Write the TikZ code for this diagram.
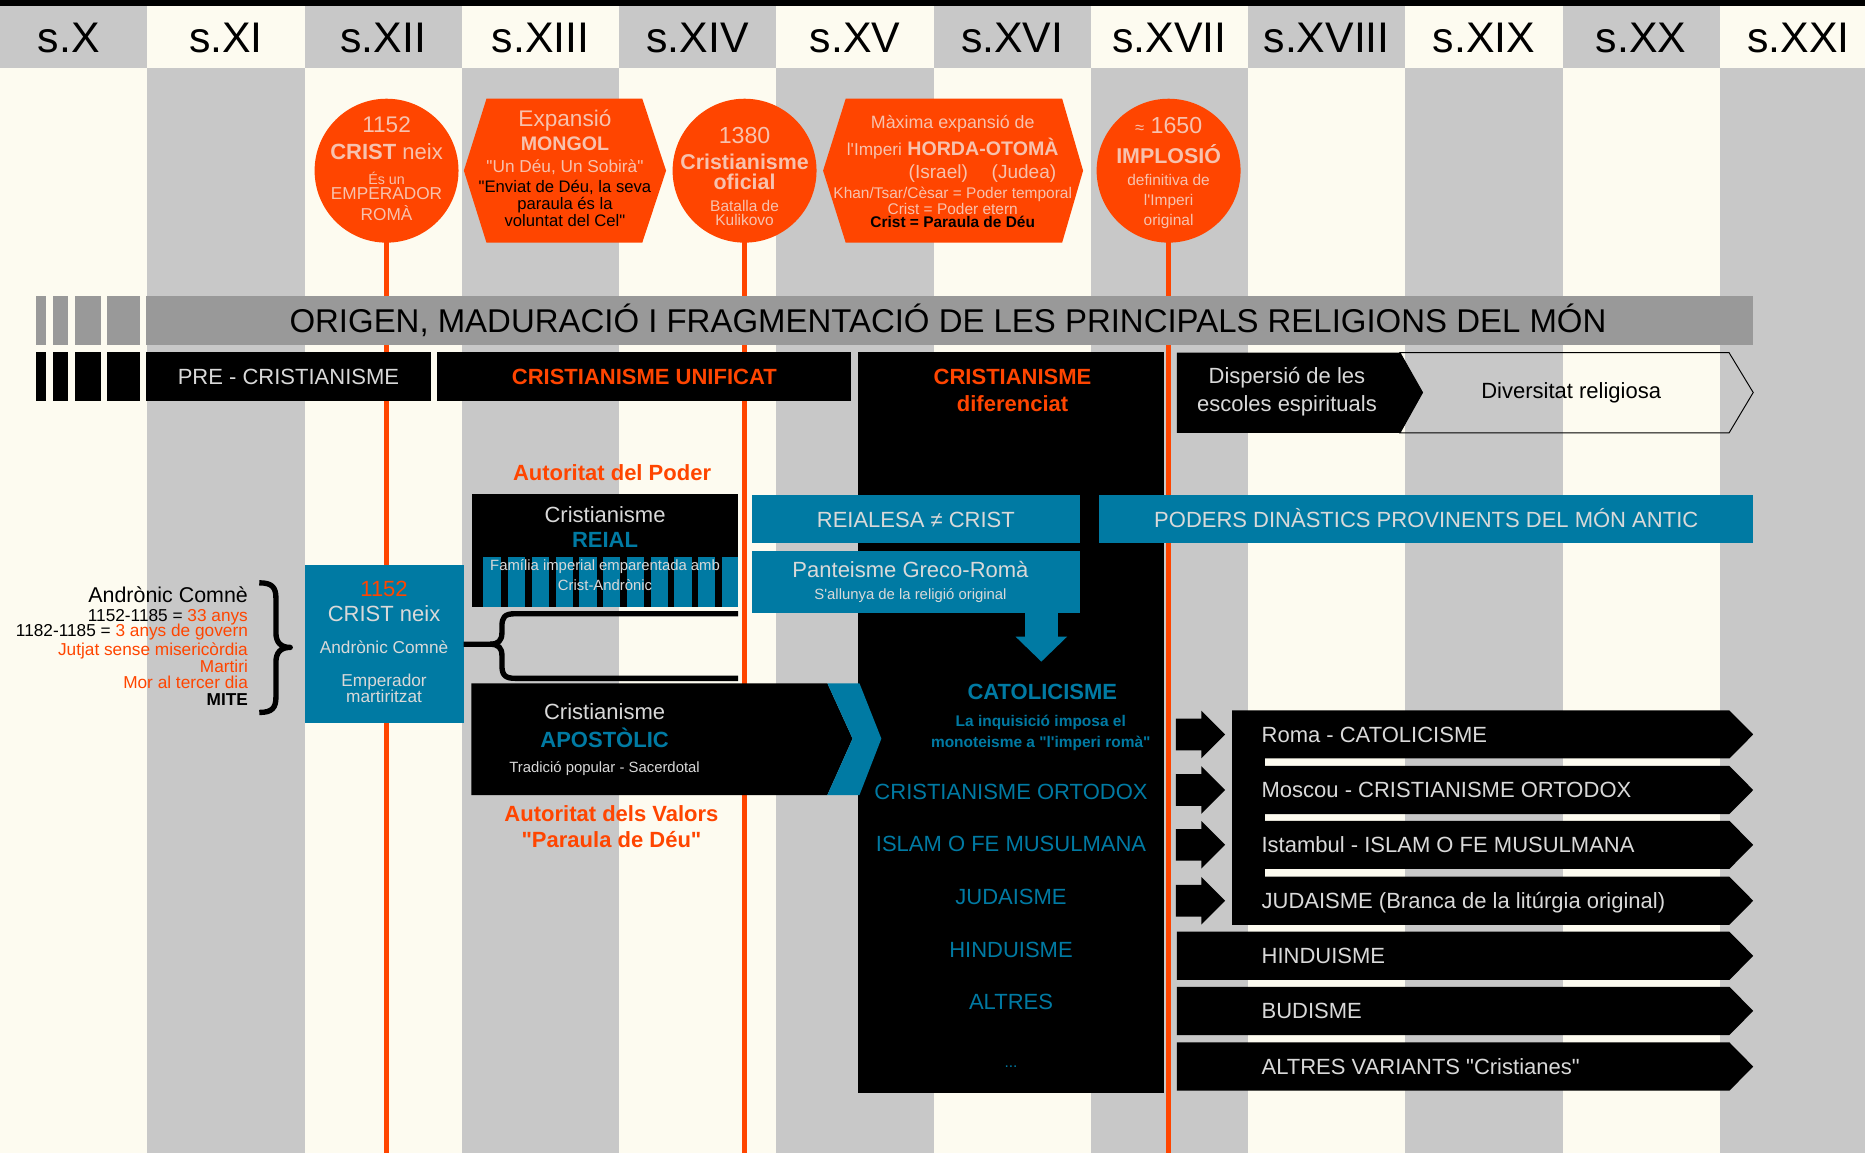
\documentclass[tikz,border=0pt]{standalone}
\usepackage{fontspec}
\setmainfont{Liberation Sans}[Ligatures=TeXOff]
\usetikzlibrary{arrows.meta}
\definecolor{gris}{HTML}{C8C8C8}
\definecolor{crema}{HTML}{FDFBF0}
\definecolor{barra}{HTML}{999999}
\definecolor{vermell}{HTML}{FF4500}
\definecolor{blau}{HTML}{007AA3}
\definecolor{clar}{HTML}{D9D9D9}
\definecolor{rosa}{HTML}{F7C2AE}
\newcommand{\mida}[1]{\fontsize{#1}{#1}\selectfont}
\tikzset{
  lin/.style={inner sep=0pt, font=\mida{#1}, text height={0.716*#1pt}, text depth=0pt},
  llum/.style={text=clar},
  rosat/.style={text=rosa},
  bloc/.style={inner sep=0pt, outer sep=0pt, anchor=north west},
  fil/.style={vermell, line width=4.5pt},
  cercle/.style={circle, fill=vermell, minimum size=121pt, inner sep=0pt},
  clau/.style={line width=4.5pt, line join=round},
}
\begin{document}
\begin{tikzpicture}[x=1pt,y=-1pt]
\useasboundingbox (0,0) rectangle (1568,969);
% columnes dels segles
\foreach \nom/\ccap/\ccos [count=\i from 0] in {X/gris/crema, XI/crema/gris, XII/gris/crema, XIII/crema/gris, XIV/gris/crema, XV/crema/gris, XVI/gris/crema, XVII/crema/gris, XVIII/gris/crema, XIX/crema/gris, XX/gris/crema, XXI/crema/gris}{
  \fill[\ccap] ({-8.3+\i*132.2},5) rectangle ({123.9+\i*132.2},57.5);
  \fill[\ccos] ({-8.3+\i*132.2},57.5) rectangle ({123.9+\i*132.2},969);
  \node[lin=36] (s\i) at ({57.8+\i*132.2},31) {s.\nom};
}
\fill[black] (0,0) rectangle (1568,5);
% linies de temps
\coordinate (p1152) at (325,143.5);
\coordinate (p1380) at (626,143.5);
\coordinate (p1650) at (982.5,143.5);
\foreach \p in {p1152,p1380,p1650}
  \draw[fil] (\p) -- (\p |- 0,969);
% fites
\node[cercle] (c1152) at (p1152) {};
\node[lin=19, rosat] (c1152a) at (325,105) {1152};
\node[lin=18.5, rosat] (c1152b) at (325,127.5) {\textbf{CRIST} neix};
\node[lin=12, rosat] (c1152c) at (325,151) {És un};
\node[lin=14.5, rosat] (c1152d) at (325,162.6) {EMPERADOR};
\node[lin=14.5, rosat] (c1152e) at (325,180.5) {ROMÀ};
\fill[vermell] (409,83) -- (540,83) -- (560,143.5) -- (540,204) -- (409,204) -- (390,143.5) -- cycle;
\node[lin=19, rosat] (mongola) at (475,99.5) {Expansió};
\node[lin=16.5, rosat] (mongolb) at (475,120.5) {\bfseries MONGOL};
\node[lin=14.5, rosat] (mongolc) at (475,140) {"Un Déu, Un Sobirà"};
\node[lin=14] (mongold) at (475,157) {"Enviat de Déu, la seva};
\node[lin=14] (mongole) at (475,171.5) {paraula és la};
\node[lin=14] (mongolf) at (475,185) {voluntat del Cel"};
\node[cercle] (c1380) at (p1380) {};
\node[lin=19.5, rosat] (c1380a) at (626,113.5) {1380};
\node[lin=18, rosat] (c1380b) at (626,136) {\bfseries Cristianisme};
\node[lin=18, rosat] (c1380c) at (626,152.8) {\bfseries oficial};
\node[lin=13, rosat] (c1380d) at (626,173) {Batalla de};
\node[lin=13, rosat] (c1380e) at (626,185) {Kulikovo};
\fill[vermell] (711,83) -- (893,83) -- (910.6,143.5) -- (893,204) -- (711,204) -- (692,143.5) -- cycle;
\node[lin=15, rosat] (hordaa) at (801,102.3) {Màxima expansió de};
\node[lin=16.5, rosat] (hordab) at (801,124.7) {{\mida{14.5}l'Imperi} \textbf{HORDA-OTOMÀ}};
\node[lin=16, rosat] (hordac) at (826,144.3) {(Israel)\hspace{20pt}(Judea)};
\node[lin=13, rosat] (hordad) at (801,162.6) {Khan/Tsar/Cèsar = Poder temporal};
\node[lin=13, rosat] (hordae) at (801,175.7) {Crist = Poder etern};
\node[lin=13] (hordaf) at (801,187) {\bfseries Crist = Paraula de Déu};
\node[cercle] (c1650) at (p1650) {};
\node[lin=19.5, rosat] (c1650a) at (982.5,105) {{\mida{14}≈} 1650};
\node[lin=18, rosat] (c1650b) at (982.5,131) {\bfseries IMPLOSIÓ};
\node[lin=13, rosat] (c1650c) at (982.5,151.3) {definitiva de};
\node[lin=13, rosat] (c1650d) at (982.5,168) {l'Imperi};
\node[lin=13, rosat] (c1650e) at (982.5,185) {original};
% titol
\fill[barra] (123,249) rectangle (1474,290);
\node[lin=27.7] (titol) at (797,270) {ORIGEN, MADURACIÓ I FRAGMENTACIÓ DE LES PRINCIPALS RELIGIONS DEL MÓN};
\foreach \a/\b in {30.4/38.6, 44.4/57.4, 63.2/84.9, 90.2/117.3}{
  \fill[barra] (\a,249) rectangle (\b,290);
  \fill[black] (\a,296) rectangle (\b,337);
}
\node[bloc, fill=black, lin=18.5, llum, minimum width=239pt, minimum height=41pt] (pre) at (123,296) {PRE - CRISTIANISME};
\node[bloc, fill=black, lin=18.5, text=vermell, minimum width=348pt, minimum height=41pt] (unificat) at (367.7,296) {\bfseries CRISTIANISME UNIFICAT};
% cristianisme diferenciat
\node[bloc, fill=black, minimum width=257.5pt, minimum height=623pt] (dif) at (721.2,296) {};
\node[lin=18.5, text=vermell] (difa) at (851.3,316.7) {\bfseries CRISTIANISME};
\node[lin=18.5, text=vermell] (difb) at (851.3,339) {\bfseries diferenciat};
\fill[black] (989.5,296.5) -- (1177,296.5) -- (1196,330) -- (1177,364) -- (989.5,364) -- cycle;
\draw[line width=0.8pt] (1177,296.5) -- (1453.7,296.5) -- (1474,330) -- (1453.7,364) -- (1177,364) -- (1196,330) -- cycle;
\node[lin=18.5, llum] (dispa) at (1082,316) {Dispersió de les};
\node[lin=18.5, llum] (dispb) at (1082,339) {escoles espirituals};
\node[lin=18.5] (divers) at (1321,328) {Diversitat religiosa};
% poders
\node[bloc, fill=blau, lin=18.5, llum, minimum width=276pt, minimum height=40.6pt] (reialesa) at (632,416.2) {REIALESA ≠ CRIST};
\node[bloc, fill=blau, lin=18.5, llum, minimum width=549.8pt, minimum height=40.6pt] (poders) at (924.2,416.2) {PODERS DINÀSTICS PROVINENTS DEL MÓN ANTIC};
\node[bloc, fill=blau, minimum width=276pt, minimum height=52.7pt] (pant) at (632,463) {};
\node[lin=18.5, llum] (panta) at (765.5,479) {Panteisme Greco-Romà};
\node[lin=12.5, llum] (pantb) at (765.5,499.4) {S'allunya de la religió original};
\coordinate (fletxa) at (875.5,556.3);
\draw[blau, line width=28pt, -{Triangle[width=42pt,length=21pt]}] (pant.south -| fletxa) -- (fletxa);
% cristianisme reial
\node[lin=18.5, text=vermell] (poder) at (514.6,397) {\bfseries Autoritat del Poder};
\node[bloc, fill=black, minimum width=223.7pt, minimum height=94.4pt] (reial) at (396.8,415.6) {};
\fill[blau] (406.3,468) rectangle (620.5,510);
\foreach \k in {0,...,9}
  \fill[black] ({421.6+\k*19.98},468) rectangle ({427.1+\k*19.98},510);
\node[lin=18.5, llum] (reiala) at (508.7,433) {Cristianisme};
\node[lin=18.5, text=blau] (reialb) at (508.7,454) {\bfseries REIAL};
\node[lin=12.5, llum] (reialc) at (508.7,475) {Família imperial emparentada amb};
\node[lin=12.5, llum] (reiald) at (508.7,492.4) {Crist-Andrònic};
% crist andronic
\node[bloc, fill=blau, minimum width=133.3pt, minimum height=133.2pt] (crist) at (256.5,475) {};
\node[lin=18.5, text=vermell] (crista) at (322.9,494.6) {1152};
\node[lin=18.5, llum] (cristb) at (322.9,515.7) {CRIST neix};
\node[lin=14.5, llum] (cristc) at (322.9,544.2) {Andrònic Comnè};
\node[lin=14.5, llum] (cristd) at (322.9,571.7) {Emperador};
\node[lin=14.5, llum] (criste) at (322.9,585.8) {martiritzat};
\coordinate (bs) at (620.5,516);
\coordinate (bi) at (620.5,570.3);
\draw[clau] (bs) -- (433,516) .. controls (424,516) and (422,519) .. (422,527) -- (422,532) .. controls (422,538.5) and (419,541.6) .. (412,541.6) -- (crist.east);
\draw[clau] (bi) -- (433,570.3) .. controls (424,570.3) and (422,567) .. (422,559) -- (422,551) .. controls (422,544.7) and (419,541.6) .. (412,541.6);
\node[lin=18, anchor=east] (andr) at (208.6,500.3) {Andrònic Comnè};
\node[lin=14.5, anchor=east] (anysa) at (208.6,517) {1152-1185 = \textcolor{vermell}{33 anys}};
\node[lin=14.5, anchor=east] (anysb) at (208.6,530.2) {1182-1185 = \textcolor{vermell}{3 anys de govern}};
\node[lin=14.5, anchor=east, text=vermell] (jutjat) at (208.6,546) {Jutjat sense misericòrdia};
\node[lin=14.5, anchor=east, text=vermell] (martiri) at (208.6,560) {Martiri};
\node[lin=14.5, anchor=east, text=vermell] (mor) at (208.6,574) {Mor al tercer dia};
\node[lin=14.5, anchor=east] (mite) at (208.6,588) {\bfseries MITE};
\draw[clau] (218,490) .. controls (229,490) and (232,494) .. (232,503) -- (232,532) .. controls (232,540) and (236,544.3) .. (244,544.3) .. controls (236,544.3) and (232,548.6) .. (232,556.6) -- (232,586) .. controls (232,595) and (229,599) .. (218,599);
% cristianisme apostolic
\fill[black] (396.4,574.5) -- (695.6,574.5) -- (716.8,621) -- (695.6,668.4) -- (396.4,668.4) -- cycle;
\fill[blau] (695.6,574.5) -- (722.6,574.5) -- (741,621) -- (722.6,668.4) -- (695.6,668.4) -- (716.8,621) -- cycle;
\node[lin=18.5, llum] (aposa) at (508.3,598.3) {Cristianisme};
\node[lin=18.5, text=blau] (aposb) at (508.3,622.2) {\bfseries APOSTÒLIC};
\node[lin=12.5, llum] (aposc) at (508.3,644.6) {Tradició popular - Sacerdotal};
\node[lin=18.5, text=vermell] (valors) at (514.1,684.4) {\bfseries Autoritat dels Valors};
\node[lin=18.5, text=vermell] (paraula) at (514.1,706.2) {\bfseries "Paraula de Déu"};
% branques
\node[lin=18.5, text=blau] (catol) at (876.3,581.5) {\bfseries CATOLICISME};
\node[lin=13, text=blau] (inqa) at (875,606.2) {\bfseries La inquisició imposa el};
\node[lin=13, text=blau] (inqb) at (875,623.6) {\bfseries monoteisme a "l'imperi romà"};
\foreach \yc/\nom/\txt in {665.6/ortodox/CRISTIANISME ORTODOX, 709/islam/ISLAM O FE MUSULMANA, 753.9/juda/JUDAISME, 798.7/hinduis/HINDUISME, 842.2/altres/ALTRES}
  \node[lin=18.5, text=blau] (\nom) at (850,\yc) {\txt};
\node[lin=13, text=blau] (punts) at (850,892.6) {...};
% religions actuals
\fill[black] (1035.8,597.5) rectangle (1063.6,777.7);
\foreach \yc/\nom/\txt in {617.5/roma/Roma - CATOLICISME, 664.2/moscou/Moscou - CRISTIANISME ORTODOX, 710.3/istambul/Istambul - ISLAM O FE MUSULMANA, 757.3/judaisme/{JUDAISME (Branca de la litúrgia original)}}{
  \fill[black] (1035.8,\yc-20.2) -- (1454,\yc-20.2) -- (1474,\yc) -- (1454,\yc+20.2) -- (1035.8,\yc+20.2) -- cycle;
  \fill[black] (988.7,\yc-13.3) -- (1010,\yc-13.3) -- (1010,\yc-20) -- (1030,\yc) -- (1010,\yc+20) -- (1010,\yc+13.3) -- (988.7,\yc+13.3) -- cycle;
  \node[lin=18.5, llum, anchor=west] (\nom) at (1060.5,\yc) {\txt};
}
\foreach \yc/\nom/\txt in {803.6/hindu/HINDUISME, 849.9/budisme/BUDISME, 896.7/variants/{ALTRES VARIANTS "Cristianes"}}{
  \fill[black] (989.5,\yc-20.3) -- (1454,\yc-20.3) -- (1474,\yc) -- (1454,\yc+20.3) -- (989.5,\yc+20.3) -- cycle;
  \node[lin=18.5, llum, anchor=west] (\nom) at (1060.5,\yc) {\txt};
}
\end{tikzpicture}
\end{document}
